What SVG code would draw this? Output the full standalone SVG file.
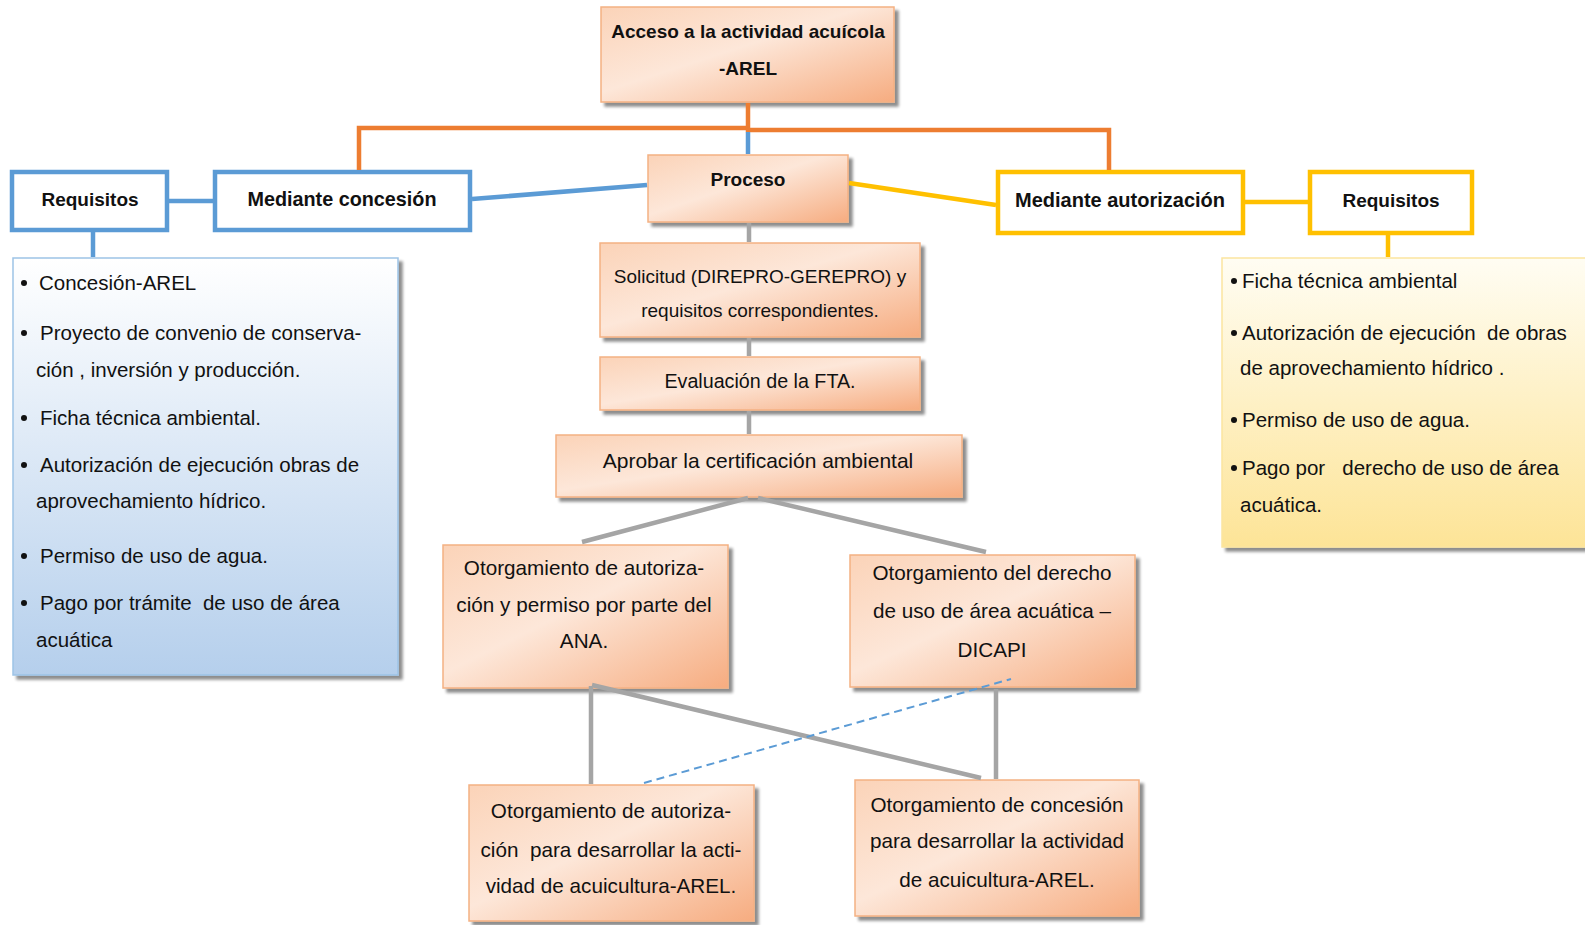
<svg xmlns="http://www.w3.org/2000/svg" width="1585" height="925" viewBox="0 0 1585 925">
<defs>
<linearGradient id="gOr" x1="0" y1="0" x2="1" y2="1">
<stop offset="0" stop-color="#fbd3b8"/>
<stop offset="0.45" stop-color="#fde7d9"/>
<stop offset="1" stop-color="#f6ac80"/>
</linearGradient>
<linearGradient id="gBlue" x1="0" y1="0" x2="0" y2="1">
<stop offset="0" stop-color="#ffffff"/>
<stop offset="1" stop-color="#b5cfec"/>
</linearGradient>
<linearGradient id="gYel" x1="0" y1="0" x2="0" y2="1">
<stop offset="0" stop-color="#fffdf3"/>
<stop offset="1" stop-color="#fde497"/>
</linearGradient>
<filter id="sh" x="-10%" y="-10%" width="130%" height="130%">
<feGaussianBlur in="SourceAlpha" stdDeviation="1.5"/>
<feOffset dx="4" dy="4" result="o"/>
<feComponentTransfer><feFuncA type="linear" slope="0.45"/></feComponentTransfer>
<feMerge><feMergeNode/><feMergeNode in="SourceGraphic"/></feMerge>
</filter>
</defs>
<style>
.t{font-family:"Liberation Sans",Arial,sans-serif;font-size:19px;fill:#111}
.b{font-weight:bold}
.c{text-anchor:middle}
.m{font-size:20.7px}
.l{font-size:20.5px}
.or{fill:url(#gOr);stroke:#f4b183;stroke-width:1.5;filter:url(#sh)}
.bx{fill:#fff;stroke:#5b9bd5;stroke-width:4.5}
.yx{fill:#fff;stroke:#ffc000;stroke-width:4.5}
.ln{fill:none;stroke-width:4.5}
</style>
<rect width="1585" height="925" fill="#fff"/>
<g id="n-acceso">
<rect class="or" x="601" y="7" width="293" height="95"/>
<text class="t b c" x="748" y="38">Acceso a la actividad acuícola</text>
<text class="t b c" x="748" y="75">-AREL</text>
</g>
<g id="n-proceso">
<rect class="or" x="648" y="155" width="200" height="67"/>
<text class="t b c" x="748" y="186">Proceso</text>
</g>
<g id="n-req-l">
<rect class="bx" x="12" y="172" width="155" height="58"/>
<text class="t b c" x="90" y="206">Requisitos</text>
</g>
<g id="n-concesion">
<rect class="bx" x="215" y="172" width="255" height="58"/>
<text class="t b c" x="342" y="206" style="font-size:19.8px">Mediante concesión</text>
</g>
<g id="n-autorizacion">
<rect class="yx" x="998" y="172" width="245" height="61"/>
<text class="t b c" x="1120" y="207" style="font-size:20px">Mediante autorización</text>
</g>
<g id="n-req-r">
<rect class="yx" x="1310" y="172" width="162" height="61"/>
<text class="t b c" x="1391" y="207">Requisitos</text>
</g>
<g id="n-list-l">
<rect x="13" y="258" width="385" height="417" fill="url(#gBlue)" stroke="#9dc3e6" stroke-width="1.5" filter="url(#sh)"/>
<g class="t l">
<circle cx="24" cy="283" r="3" fill="#111"/>
<text x="39" y="290">Concesión-AREL</text>
<circle cx="24" cy="333" r="3" fill="#111"/>
<text x="40" y="340">Proyecto de convenio de conserva-</text>
<text x="36" y="377">ción , inversión y producción.</text>
<circle cx="24" cy="418" r="3" fill="#111"/>
<text x="40" y="425">Ficha técnica ambiental.</text>
<circle cx="24" cy="465" r="3" fill="#111"/>
<text x="40" y="472">Autorización de ejecución obras de</text>
<text x="36" y="508">aprovechamiento hídrico.</text>
<circle cx="24" cy="556" r="3" fill="#111"/>
<text x="40" y="563">Permiso de uso de agua.</text>
<circle cx="24" cy="603" r="3" fill="#111"/>
<text x="40" y="610" xml:space="preserve">Pago por trámite  de uso de área</text>
<text x="36" y="647">acuática</text>
</g>
</g>
<g id="n-list-r">
<rect x="1222" y="258" width="380" height="289" fill="url(#gYel)" stroke="#fbe5a0" stroke-width="1.5" filter="url(#sh)"/>
<g class="t l">
<circle cx="1234" cy="281" r="3" fill="#111"/>
<text x="1242" y="288">Ficha técnica ambiental</text>
<circle cx="1234" cy="333" r="3" fill="#111"/>
<text x="1242" y="340" xml:space="preserve">Autorización de ejecución  de obras</text>
<text x="1240" y="375">de aprovechamiento hídrico .</text>
<circle cx="1234" cy="420" r="3" fill="#111"/>
<text x="1242" y="427">Permiso de uso de agua.</text>
<circle cx="1234" cy="468" r="3" fill="#111"/>
<text x="1242" y="475" xml:space="preserve">Pago por   derecho de uso de área</text>
<text x="1240" y="512">acuática.</text>
</g>
</g>
<g id="n-solicitud">
<rect class="or" x="600" y="243" width="320" height="94"/>
<text class="t c" x="760" y="283">Solicitud (DIREPRO-GEREPRO) y</text>
<text class="t c" x="760" y="317">requisitos correspondientes.</text>
</g>
<g id="n-evaluacion">
<rect class="or" x="600" y="357" width="320" height="53"/>
<text class="t c" x="760" y="388" style="font-size:19.7px">Evaluación de la FTA.</text>
</g>
<g id="n-aprobar">
<rect class="or" x="556" y="435" width="406" height="62"/>
<text class="t c" x="758" y="468" style="font-size:21px">Aprobar la certificación ambiental</text>
</g>
<g id="n-ana">
<rect class="or" x="443" y="545" width="285" height="143"/>
<text class="t c m" x="584" y="575">Otorgamiento de autoriza-</text>
<text class="t c m" x="584" y="612">ción y permiso por parte del</text>
<text class="t c m" x="584" y="648">ANA.</text>
</g>
<g id="n-dicapi">
<rect class="or" x="850" y="555" width="285" height="132"/>
<text class="t c m" x="992" y="580">Otorgamiento del derecho</text>
<text class="t c m" x="992" y="618">de uso de área acuática –</text>
<text class="t c m" x="992" y="657">DICAPI</text>
</g>
<g id="n-aut-arel">
<rect class="or" x="469" y="785" width="285" height="136"/>
<text class="t c m" x="611" y="818">Otorgamiento de autoriza-</text>
<text class="t c m" x="611" y="857" xml:space="preserve">ción  para desarrollar la acti-</text>
<text class="t c m" x="611" y="893">vidad de acuicultura-AREL.</text>
</g>
<g id="n-con-arel">
<rect class="or" x="855" y="780" width="284" height="136"/>
<text class="t c m" x="997" y="812">Otorgamiento de concesión</text>
<text class="t c m" x="997" y="848">para desarrollar la actividad</text>
<text class="t c m" x="997" y="887">de acuicultura-AREL.</text>
</g>
<g id="connectors">
<path class="ln" stroke="#ed7d31" d="M359,170 V128 H749"/>
<path class="ln" stroke="#ed7d31" d="M748,103 V130 H1109 V170"/>
<path class="ln" stroke="#5b9bd5" d="M748,132 V154"/>
<path class="ln" stroke="#5b9bd5" d="M169,201 H213"/>
<path class="ln" stroke="#5b9bd5" d="M472,199 L647,185"/>
<path class="ln" stroke="#5b9bd5" d="M93,232 V257"/>
<path class="ln" stroke="#ffc000" d="M849,183 L996,205"/>
<path class="ln" stroke="#ffc000" d="M1245,202 H1308"/>
<path class="ln" stroke="#ffc000" d="M1388,235 V257"/>
<path class="ln" stroke="#a5a5a5" d="M749,223 V242 M749,338 V356 M749,411 V434"/>
<path class="ln" stroke="#a5a5a5" d="M748,498 L582,542 M758,498 L986,552"/>
<path class="ln" stroke="#a5a5a5" d="M591,686 V784 M996,689 V779"/>
<path class="ln" stroke="#a5a5a5" stroke-width="6" d="M592,685 L981,778"/>
<path fill="none" stroke="#5b9bd5" stroke-width="2" stroke-dasharray="8,5" d="M644,783 L1011,679"/>
</g>
</svg>
